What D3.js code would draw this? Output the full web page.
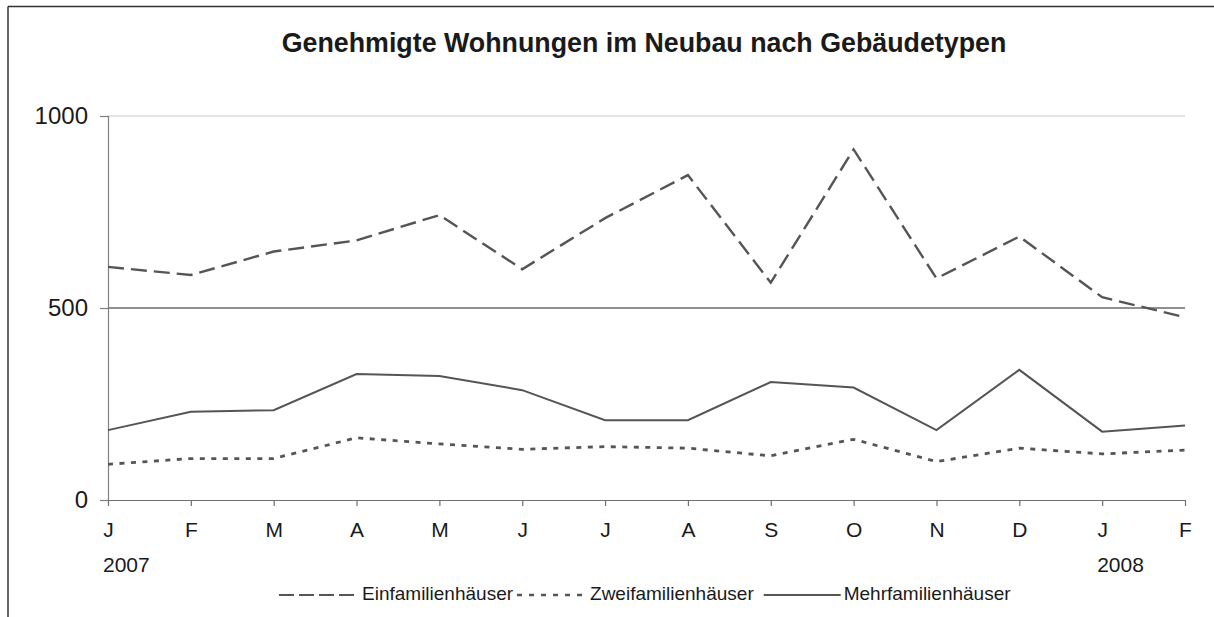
<!DOCTYPE html>
<html>
<head>
<meta charset="utf-8">
<script src="https://cdn.jsdelivr.net/npm/d3@7"></script>
<style>
  html, body { margin: 0; padding: 0; background: #fff; }
  svg { display: block; font-family: "Liberation Sans", Arial, sans-serif; }
</style>
</head>
<body>
<svg id="chart" width="1214" height="617"></svg>
<script>
// ---- data ----
const monthLabels = ["J","F","M","A","M","J","J","A","S","O","N","D","J","F"];
const yearLabels = [{i: 0, label: "2007"}, {i: 12, label: "2008"}];
const seriesNames = ["Einfamilienhäuser", "Zweifamilienhäuser", "Mehrfamilienhäuser"];
const einfamilien = [607, 586, 647, 676, 742, 601, 734, 846, 566, 913, 577, 686, 528, 476];
const zweifamilien = [93, 108, 108, 162, 146, 132, 139, 135, 115, 158, 100, 135, 120, 130];
const mehrfamilien = [182, 230, 234, 328, 323, 286, 208, 208, 307, 293, 182, 339, 178, 194];
const yTicks = [0, 500, 1000];
const titleText = "Genehmigte Wohnungen im Neubau nach Gebäudetypen";

// ---- layout ----
const W = 1214, H = 617;
const plotLeft = 108, plotRight = 1185, plotTop = 116, plotBottom = 500;
const svg = d3.select("#chart");
const lineColor = "#555555";

// frame
svg.append("line").attr("x1", 8).attr("x2", 8).attr("y1", 6.5).attr("y2", H)
  .attr("stroke", "#333").attr("stroke-width", 1.5);
svg.append("line").attr("x1", 8).attr("x2", W).attr("y1", 6.5).attr("y2", 6.5)
  .attr("stroke", "#333").attr("stroke-width", 1.5);

// title
svg.append("text").attr("x", 644).attr("y", 52).attr("text-anchor", "middle")
  .attr("font-size", 26.8).attr("font-weight", "bold").attr("fill", "#1a1a1a")
  .text(titleText);

// scales
const x = d3.scalePoint().domain(d3.range(monthLabels.length)).range([plotLeft, plotRight]);
const y = d3.scaleLinear().domain([0, 1000]).range([plotBottom, plotTop]);

// gridlines
svg.append("line").attr("x1", plotLeft).attr("x2", plotRight).attr("y1", y(1000)).attr("y2", y(1000))
  .attr("stroke", "#c8c8c8").attr("stroke-width", 1.2);
svg.append("line").attr("x1", plotLeft).attr("x2", plotRight).attr("y1", y(500)).attr("y2", y(500))
  .attr("stroke", "#222").attr("stroke-width", 1.2);

// y axis
const yAxis = svg.append("g").attr("transform", `translate(${plotLeft},0)`)
  .call(d3.axisLeft(y).tickValues(yTicks).tickSize(8).tickPadding(12).tickFormat(d3.format("d")));
yAxis.select(".domain").attr("stroke", "#808080").attr("stroke-width", 1.2);
yAxis.selectAll(".tick line").attr("stroke", "#808080").attr("stroke-width", 1.2);
yAxis.selectAll(".tick text").attr("font-size", 24).attr("fill", "#1a1a1a")
  .attr("font-family", "Liberation Sans, Arial, sans-serif").attr("dy", "0.33em");

// x axis
const xAxis = svg.append("g").attr("transform", `translate(0,${plotBottom})`)
  .call(d3.axisBottom(x).tickSize(6).tickSizeOuter(0).tickPadding(16).tickFormat(i => monthLabels[i]));
xAxis.select(".domain").attr("stroke", "#707070").attr("stroke-width", 1.2);
xAxis.selectAll(".tick line").attr("stroke", "#707070").attr("stroke-width", 1.2);
xAxis.selectAll(".tick text").attr("font-size", 21).attr("fill", "#1a1a1a")
  .attr("font-family", "Liberation Sans, Arial, sans-serif").attr("dy", "0.71em");

// year labels
svg.selectAll(".year").data(yearLabels).enter().append("text")
  .attr("class", "year")
  .attr("x", d => x(d.i) - 5).attr("y", 572)
  .attr("font-size", 21).attr("fill", "#1a1a1a")
  .text(d => d.label);

// lines
const lineGen = d3.line().x((d, i) => x(i)).y(d => y(d));
const styles = [
  {data: einfamilien, dash: "16,7", width: 2.4},
  {data: zweifamilien, dash: "5,6.5", width: 2.8},
  {data: mehrfamilien, dash: null, width: 2}
];
styles.forEach(s => {
  svg.append("path").datum(s.data).attr("d", lineGen)
    .attr("fill", "none").attr("stroke", lineColor)
    .attr("stroke-width", s.width)
    .attr("stroke-dasharray", s.dash)
    .attr("stroke-linejoin", "miter");
});

// legend
const legendDash = ["15,5", "5,7", null];
const legendLineLen = [80, 70, 77];
const legendGapAfter = [4, 10, 0];
let lx = 279;
const ly = 595;
seriesNames.forEach((name, k) => {
  svg.append("line").attr("x1", lx).attr("x2", lx + legendLineLen[k])
    .attr("y1", ly).attr("y2", ly)
    .attr("stroke", lineColor).attr("stroke-width", k === 1 ? 2.4 : 2)
    .attr("stroke-dasharray", legendDash[k]);
  lx += legendLineLen[k] + 3;
  const t = svg.append("text").attr("x", lx).attr("y", 599.5)
    .attr("font-size", 19).attr("fill", "#1a1a1a").text(name);
  lx += t.node().getComputedTextLength() + legendGapAfter[k];
});
</script>
</body>
</html>
